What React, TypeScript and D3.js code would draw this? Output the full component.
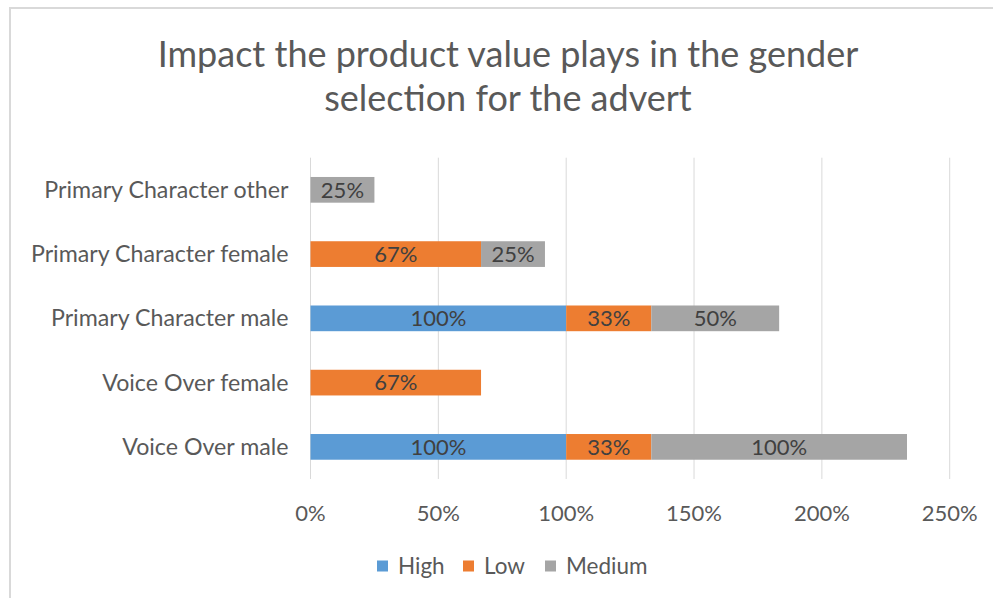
import React from "react";
import * as d3 from "d3";

// chart data, top row first
const categories = [
  "Primary Character other",
  "Primary Character female",
  "Primary Character male",
  "Voice Over female",
  "Voice Over male",
];
const seriesNames = ["High", "Low", "Medium"];
const highValues = [0, 0, 100, 0, 100];
const lowValues = [0, 66.7, 33.3, 66.7, 33.3];
const mediumValues = [25, 25, 50, 0, 100];
const xTicks = [0, 50, 100, 150, 200, 250];
const titleLines = ["Impact the product value plays in the gender", "selection for the advert"];

const colors = ["#5b9bd5", "#ed7d31", "#a5a5a5"];
const FONT = "Lato, 'Open Sans', sans-serif";
const W = 993;
const H = 598;

const App = () => {
  const margin = { left: 310.5, right: 43.3, top: 157.7, bottom: 119 };
  const innerW = W - margin.left - margin.right;
  const innerH = H - margin.top - margin.bottom;

  const x = d3.scaleLinear().domain([0, 250]).range([0, innerW]);
  const y = d3.scaleBand().domain(categories).range([0, innerH]).paddingInner(0.6).paddingOuter(0.3);

  const table = categories.map((c, i) => ({
    category: c,
    High: highValues[i],
    Low: lowValues[i],
    Medium: mediumValues[i],
  }));
  const stacked = d3.stack<any>().keys(seriesNames)(table);

  const legendItems = [
    { name: "High", x: 377 },
    { name: "Low", x: 463 },
    { name: "Medium", x: 545 },
  ];

  return (
    <svg
      width={W}
      height={H}
      style={{ position: "absolute", left: 0, top: 0, background: "#fff" }}
      fontFamily={FONT}
    >
      <rect x={10} y={8} width={W + 20} height={H + 20} fill="#fff" stroke="#d9d9d9" strokeWidth={2} />

      {titleLines.map((t, i) => (
        <text key={i} x={508} y={67 + i * 44} textAnchor="middle" fontSize={36} fill="#595959">
          {t}
        </text>
      ))}

      <g transform={`translate(${margin.left},${margin.top})`}>
        {xTicks.map((t) => (
          <g key={t}>
            <line x1={x(t)} x2={x(t)} y1={0} y2={innerH} stroke="#d9d9d9" strokeWidth={1} />
            <text x={x(t)} y={innerH + 42} textAnchor="middle" fontSize={22} fill="#595959">
              {t}%
            </text>
          </g>
        ))}

        {stacked.map((s, si) => (
          <g key={s.key} fill={colors[si]}>
            {s.map((d, di) => {
              const w = x(d[1]) - x(d[0]);
              if (w <= 0) return null;
              return (
                <rect key={di} x={x(d[0])} y={y(categories[di])} width={w} height={y.bandwidth()} />
              );
            })}
          </g>
        ))}

        {stacked.map((s) =>
          s.map((d, di) => {
            const v = d[1] - d[0];
            if (v <= 0) return null;
            return (
              <text
                key={s.key + di}
                x={x((d[0] + d[1]) / 2)}
                y={(y(categories[di]) as number) + y.bandwidth() / 2}
                dy="0.35em"
                textAnchor="middle"
                fontSize={22}
                fill="#404040"
              >
                {Math.round(v)}%
              </text>
            );
          })
        )}

        {categories.map((c) => (
          <text
            key={c}
            x={-22}
            y={(y(c) as number) + y.bandwidth() / 2}
            dy="0.35em"
            textAnchor="end"
            fontSize={23.2}
            fill="#595959"
          >
            {c}
          </text>
        ))}
      </g>

      {legendItems.map((l, i) => (
        <g key={l.name}>
          <rect x={l.x} y={560.5} width={11} height={11} fill={colors[i]} />
          <text x={l.x + 21} y={566} dy="0.35em" fontSize={22.5} fill="#595959">
            {l.name}
          </text>
        </g>
      ))}
    </svg>
  );
};

export default App;
